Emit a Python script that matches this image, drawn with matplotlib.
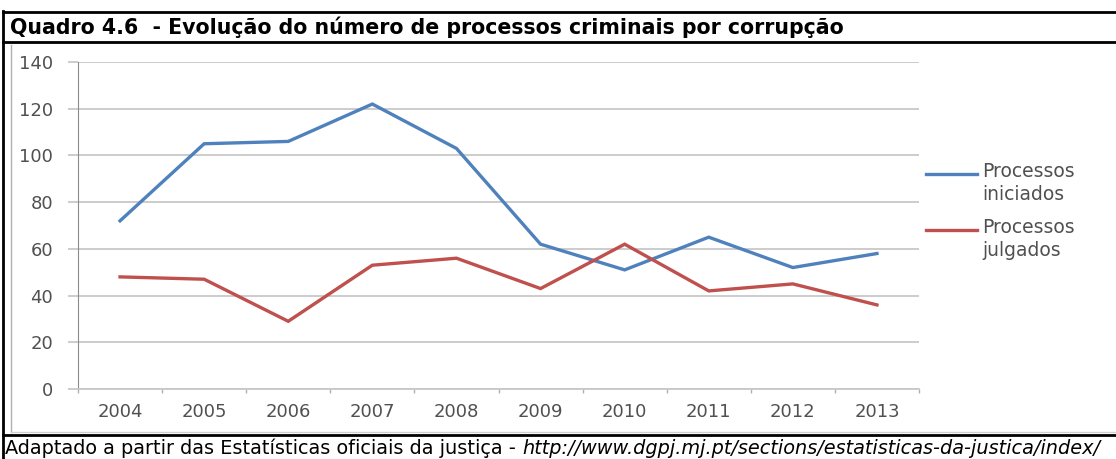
import matplotlib.pyplot as plt
import numpy as np

W, H = 1116, 459

anos = ["2004", "2005", "2006", "2007", "2008", "2009", "2010", "2011", "2012", "2013"]
iniciados = [72, 105, 106, 122, 103, 62, 51, 65, 52, 58]
julgados = [48, 47, 29, 53, 56, 43, 62, 42, 45, 36]
series = [("Processos\niniciados", iniciados, "#4F81BD"),
          ("Processos\njulgados", julgados, "#C0504D")]

CINZA_TXT = "#505050"

fig = plt.figure(figsize=(W / 100, H / 100), dpi=100)


def fx(px):
    return px / W


def fy(py):
    return 1 - py / H


# moldura do quadro
lw_box = 2.0
fig.add_artist(plt.Line2D([fx(3), 1], [fy(12), fy(12)], color="black", lw=lw_box))
fig.add_artist(plt.Line2D([fx(3), 1], [fy(42), fy(42)], color="black", lw=lw_box))
fig.add_artist(plt.Line2D([fx(3), 1], [fy(435), fy(435)], color="black", lw=lw_box))
fig.add_artist(plt.Line2D([fx(3), fx(3)], [fy(11), 0], color="black", lw=lw_box))
# contorno claro da imagem do gráfico
fig.add_artist(plt.Line2D([fx(11), fx(11)], [fy(45), fy(432)], color="#b0b0b0", lw=1))
fig.add_artist(plt.Line2D([fx(11), 1], [fy(432), fy(432)], color="#d0d0d0", lw=1))

fig.text(fx(10), fy(27), "Quadro 4.6  - Evolução do número de processos criminais por corrupção",
         family="DejaVu Sans", weight="bold", fontsize=14.8, va="center", ha="left")

# fonte: parte normal + endereço em itálico, ajustados à largura do quadro
cap_txt = "Adaptado a partir das Estatísticas oficiais da justiça - "
url_txt = "http://www.dgpj.mj.pt/sections/estatisticas-da-justica/index/"
fs = 14.0
cap1 = fig.text(fx(5), fy(448), cap_txt, family="DejaVu Sans", fontsize=fs,
                va="center", ha="left")
cap2 = fig.text(0, fy(448), url_txt, family="DejaVu Sans", style="italic", fontsize=fs,
                va="center", ha="left")
r = fig.canvas.get_renderer()
total = cap1.get_window_extent(r).width + cap2.get_window_extent(r).width
fs = fs * (1104 - 5) / total
cap1.set_fontsize(fs)
cap2.set_fontsize(fs)
cap2.set_x(cap1.get_window_extent(r).x1 / W)

# área do gráfico
ax = fig.add_axes([fx(78), fy(389), fx(919) - fx(78), fy(62) - fy(389)])
x = np.arange(len(anos))
for nome, vals, cor in series:
    ax.plot(x, vals, color=cor, lw=2.4, solid_joinstyle="miter")

ax.set_xlim(-0.5, len(anos) - 0.5)
ax.set_ylim(0, 140)
ax.set_yticks(np.arange(0, 141, 20))
ax.set_xticks(x)
ax.set_xticklabels(anos)
ax.set_xticks(np.arange(-0.5, len(anos)), minor=True)
ax.grid(axis="y", color="#c8c8c8", lw=1.3)
ax.set_axisbelow(True)
for s in ["top", "right"]:
    ax.spines[s].set_visible(False)
ax.spines["left"].set_color("#8c8c8c")
ax.spines["bottom"].set_color("#c8c8c8")
ax.spines["bottom"].set_linewidth(1.3)
ax.tick_params(axis="y", length=7, color="#c8c8c8", width=1.3, labelsize=13,
               labelcolor=CINZA_TXT, pad=11)
ax.tick_params(axis="x", which="major", length=0, labelsize=13, labelcolor=CINZA_TXT, pad=10)
ax.tick_params(axis="x", which="minor", length=3, color="#b0b0b0", width=1)

# legenda à direita, traço alinhado com a primeira linha do texto
for (nome, vals, cor), ly in zip(series, [174, 230]):
    fig.add_artist(plt.Line2D([fx(926), fx(977)], [fy(ly), fy(ly)], color=cor, lw=2.4))
    fig.text(fx(982), fy(ly - 12), nome, family="DejaVu Sans", fontsize=13.5,
             color=CINZA_TXT, va="top", ha="left", linespacing=1.25)

fig.savefig("out.png", dpi=100)
